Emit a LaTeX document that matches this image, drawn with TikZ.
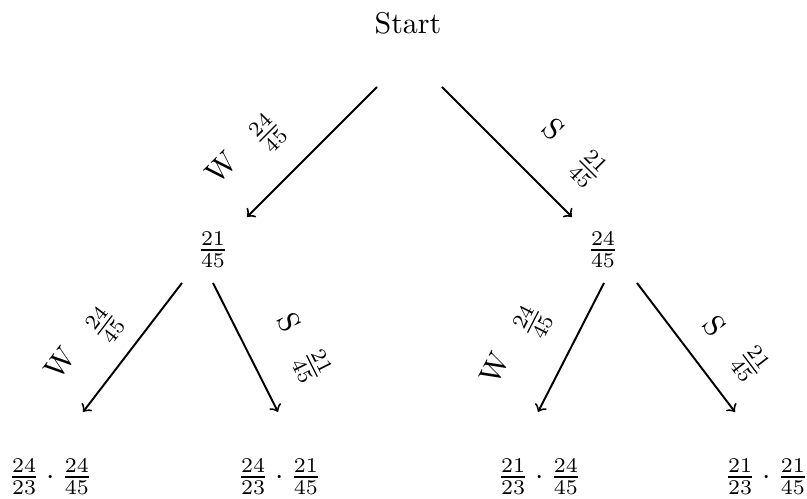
\documentclass[tikz,border=0pt]{standalone}
\usetikzlibrary{calc}
\begin{document}
\begin{tikzpicture}[x=0.3333pt,y=-0.3333pt,
  tnode/.style={inner sep=0pt,outer sep=0pt},
  lbl/.style={inner sep=0pt,outer sep=0pt},
  arr/.style={->,line width=0.65pt}]
\useasboundingbox (0,0) rectangle (807,499);
% nodes
\node[tnode] (start) at (408,23) {Start};
\node[tnode] (L) at (213,250) {$\frac{21}{45}$};
\node[tnode] (R) at (603,250) {$\frac{24}{45}$};
\node[tnode] (LL) at (50.5,477) {$\frac{24}{23}\cdot\frac{24}{45}$};
\node[tnode] (LR) at (279.5,477) {$\frac{24}{23}\cdot\frac{21}{45}$};
\node[tnode] (RL) at (539.5,477) {$\frac{21}{23}\cdot\frac{24}{45}$};
\node[tnode] (RR) at (766.5,477) {$\frac{21}{23}\cdot\frac{21}{45}$};
% connectors
\draw[arr] ($(start)+(-31,64)$) -- ($(L)+(34,-33)$);
\draw[arr] ($(start)+(34,64)$) -- ($(R)+(-31,-33)$);
\draw[arr] ($(L)+(-31,33)$) -- ($(LL)+(32.5,-65)$);
\draw[arr] ($(L)+(0,33)$) -- ($(LR)+(-1.5,-65)$);
\draw[arr] ($(R)+(1,33)$) -- ($(RL)+(-1.5,-65)$);
\draw[arr] ($(R)+(34,33)$) -- ($(RR)+(-31.5,-65)$);
% edge labels
\node[lbl,rotate=45] (wa) at (221,168) {W};
\node[lbl,rotate=45] (pa) at (268,133) {$\frac{24}{45}$};
\node[lbl,rotate=-45] (sa) at (554,129) {S};
\node[lbl,rotate=-45] (qa) at (588,169) {$\frac{21}{45}$};
\node[lbl,rotate=52.5] (wb) at (60,363) {W};
\node[lbl,rotate=52.5] (pb) at (105,325) {$\frac{24}{45}$};
\node[lbl,rotate=-63.3] (sb) at (289,322) {S};
\node[lbl,rotate=-63.3] (qb) at (312,366) {$\frac{21}{45}$};
\node[lbl,rotate=62.9] (wc) at (495,368) {W};
\node[lbl,rotate=62.9] (pc) at (533,322) {$\frac{24}{45}$};
\node[lbl,rotate=-52.8] (sc) at (715,326) {S};
\node[lbl,rotate=-52.8] (qc) at (750,364) {$\frac{21}{45}$};
\end{tikzpicture}
\end{document}
